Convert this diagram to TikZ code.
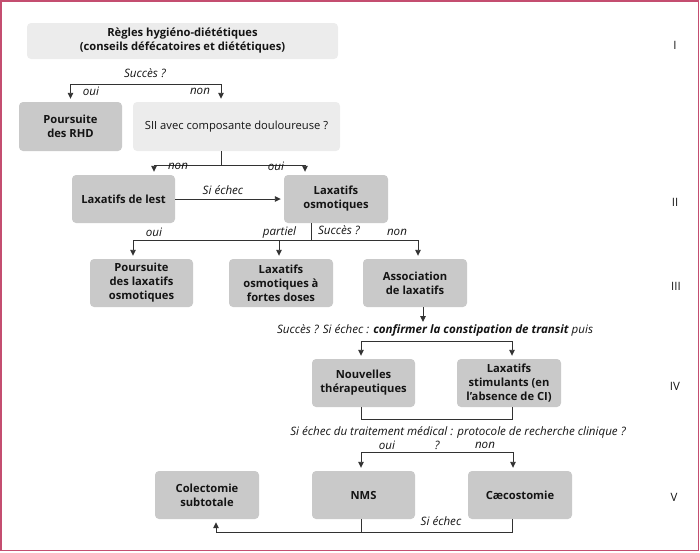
\documentclass[tikz,border=0pt]{standalone}
\usepackage{fontspec}
\setmainfont{Open Sans}
\usetikzlibrary{arrows.meta,calc}
\definecolor{framecol}{RGB}{196,78,112}
\definecolor{lightbox}{RGB}{236,236,236}
\definecolor{darkbox}{RGB}{201,201,201}
\definecolor{ln}{RGB}{50,50,50}
\definecolor{txt}{RGB}{20,20,20}
\begin{document}
\begin{tikzpicture}[x=1pt,y=-1pt,
 box/.style={rectangle, rounded corners=4pt, minimum width=103pt, minimum height=48pt, align=center, font=\fontsize{11.2}{14}\selectfont\bfseries, text=txt, inner sep=2pt},
 lbox/.style={box, fill=lightbox},
 dbox/.style={box, fill=darkbox},
 lab/.style={font=\fontsize{11.6}{13}\selectfont\itshape, text=txt, inner sep=0pt},
 rom/.style={font=\fontsize{11.5}{13}\selectfont, text=txt, inner sep=0pt},
 conn/.style={draw=ln, line width=0.9pt},
 arr/.style={conn, -{Triangle[length=6pt,width=5.5pt]}, shorten >=3pt}]
\useasboundingbox (0,0) rectangle (700,552);
\draw[framecol, line width=1.6pt] (0.8,0.8) rectangle (698.6,550.6);

% boxes
\node[lbox, minimum width=311pt, minimum height=36pt] (regles) at (182.5,41) {Règles hygiéno-diététiques\\(conseils défécatoires et diététiques)};
\node[dbox, minimum height=49pt] (rhd) at (70.5,126.5) {Poursuite\\des RHD};
\node[lbox, minimum width=207pt, minimum height=49pt, font=\fontsize{11.2}{14}\selectfont] (sii) at (236.5,126.5) {SII avec composante douloureuse ?};
\node[dbox] (lest) at (123.5,199) {Laxatifs de lest};
\node[dbox, minimum width=104pt] (osmo) at (336,199) {Laxatifs\\osmotiques};
\node[dbox] (pours) at (141.5,283) {Poursuite\\des laxatifs\\osmotiques};
\node[dbox, minimum width=104pt] (fortes) at (281,283) {Laxatifs\\osmotiques à\\fortes doses};
\node[dbox, minimum width=104pt] (assoc) at (415,283) {Association\\de laxatifs};
\node[dbox] (nouv) at (363.5,383) {Nouvelles\\thérapeutiques};
\node[dbox, minimum width=104pt] (stim) at (509,383) {Laxatifs\\stimulants (en\\l’absence de CI)};
\node[dbox, minimum width=104pt] (colect) at (207,495) {Colectomie\\subtotale};
\node[dbox] (nms) at (363.5,495) {NMS};
\node[dbox, minimum width=104pt] (caeco) at (520,495) {Cæcostomie};

% roman numerals
\node[rom] (r1) at (675,45) {I};
\node[rom] (r2) at (675,202) {II};
\node[rom] (r3) at (676,286) {III};
\node[rom] (r4) at (675,386) {IV};
\node[rom] (r5) at (674,497) {V};

% level I connectors
\node[lab] (succ1) at (145,73) {Succès ?};
\coordinate (j1) at (145,84);
\draw[arr] (j1) -| (rhd.north);
\draw[arr] (j1) -| ([xshift=-15.5pt]sii.north);
\node[lab] (l1) at (91,91) {oui};
\node[lab] (l2) at (200,91) {non};

\draw[conn] ([xshift=-15.5pt]sii.south) -- ++(0,14) coordinate (j2);
\draw[arr] (j2) -| ([xshift=30.5pt]lest.north);
\draw[arr] (j2) -| ([xshift=-31pt]osmo.north);
\node[lab] (l3) at (178,166) {non};
\node[lab] (l4) at (276,166) {oui};

% level II
\draw[arr] (lest.east) -- (osmo.west);
\node[lab] (l5) at (223,190) {Si échec};
\draw[conn] ([xshift=-25pt]osmo.south) -- ++(0,17) coordinate (j3);
\draw[arr] (j3) -| ([xshift=-8.5pt]pours.north);
\draw[arr] (j3) -| ([xshift=-2pt]fortes.north);
\draw[arr] (j3) -| ([xshift=3pt]assoc.north);
\node[lab] (l6) at (154,232) {oui};
\node[lab] (l7) at (279.5,232) {partiel};
\node[lab] (l8) at (339,230) {Succès ?};
\node[lab] (l9) at (397,232) {non};

% level III
\coordinate (a1) at (423,322);
\draw[arr, shorten >=0pt] ([xshift=8pt]assoc.south) -- (a1);
\node[lab] (t1) at (435,330) {Succès ? Si échec : \textbf{confirmer la constipation de transit} puis};
\coordinate (j4) at (436,341);
\draw[arr] (j4) -| ([xshift=-2.5pt]nouv.north);
\draw[arr] (j4) -| ([xshift=3pt]stim.north);

% level IV
\draw[conn] ([xshift=-2.5pt]nouv.south) -- ++(0,12) -| ([xshift=3pt]stim.south);
\node[lab] (t2) at (458,432) {Si échec du traitement médical : protocole de recherche clinique ?};
\node[lab] (l10) at (387,445) {oui};
\node[lab] (l11) at (437,445) {?};
\node[lab] (l12) at (485,445) {non};
\coordinate (j5) at (437,452);
\draw[arr] (j5) -| ([xshift=-2.5pt]nms.north);
\draw[arr] (j5) -| ([xshift=-7pt]caeco.north);

% level V
\draw[arr] ([xshift=-8pt]caeco.south) -- ++(0,13) -| ([xshift=9pt]colect.south);
\draw[conn] ([xshift=-2.5pt]nms.south) -- ++(0,13);
\node[lab] (l13) at (441,521) {Si échec};
\end{tikzpicture}
\end{document}
